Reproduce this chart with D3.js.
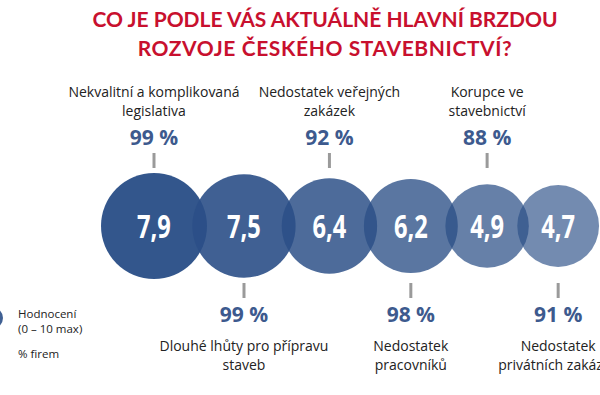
<!DOCTYPE html>
<html>
<head>
<meta charset="utf-8">
<script src="https://cdn.jsdelivr.net/npm/d3@7"></script>
<style>
  body { margin: 0; background: #fff; }
  svg { display: block; }
</style>
</head>
<body>
<div id="chart"></div>
<script>
// data
var titleLines = ["CO JE PODLE VÁS AKTUÁLNĚ HLAVNÍ BRZDOU", "ROZVOJE ČESKÉHO STAVEBNICTVÍ?"];
var categories = [
  ["Nekvalitní a komplikovaná", "legislativa"],
  ["Dlouhé lhůty pro přípravu", "staveb"],
  ["Nedostatek veřejných", "zakázek"],
  ["Nedostatek", "pracovníků"],
  ["Korupce ve", "stavebnictví"],
  ["Nedostatek", "privátních zakázek"]
];
var ratings = [7.9, 7.5, 6.4, 6.2, 4.9, 4.7];
var percents = [99, 99, 92, 98, 88, 91];
var legendLabels = [["Hodnocení", "(0 – 10 max)"], ["% firem"]];

var width = 600, height = 395;
var svg = d3.select("#chart").append("svg")
    .attr("width", width)
    .attr("height", height);

var fmt = function(v) { return String(v).replace(".", ","); };

// title
svg.append("g").selectAll("text")
  .data(titleLines)
  .enter().append("text")
    .attr("x", 325)
    .attr("y", function(d, i) { return 27 + i * 29; })
    .attr("text-anchor", "middle")
    .style("font-family", "Lato, 'Open Sans', sans-serif")
    .style("font-weight", "bold")
    .style("font-size", "21px")
    .style("letter-spacing", function(d, i) { return i == 1 ? "0.6px" : "0px"; })
    .style("fill", "#c8102e")
    .text(function(d) { return d; });

// radius from rating
var r = d3.scaleSqrt().domain([0, 7.9]).range([0, 53]);

// lay circles out left to right, slightly overlapping
var cx = [];
ratings.forEach(function(v, i) {
  if (i == 0) cx.push(154);
  else cx.push(cx[i - 1] + (r(ratings[i - 1]) + r(v)) * 0.86);
});
var cy = 226;
var opac = d3.scaleLinear().domain([0, ratings.length - 1]).range([0.96, 0.66]);

var items = ratings.map(function(v, i) {
  return { rating: v, pct: percents[i], label: categories[i], x: cx[i], i: i };
});

var nodes = svg.append("g").selectAll("g")
  .data(items)
  .enter().append("g");

nodes.append("circle")
    .attr("cx", function(d) { return d.x; })
    .attr("cy", cy)
    .attr("r", function(d) { return r(d.rating); })
    .style("fill", "#2b4f87")
    .style("fill-opacity", function(d) { return opac(d.i); });

// narrow bold numbers inside the bubbles
nodes.append("text")
    .attr("transform", function(d) { return "translate(" + d.x + "," + (cy + 12) + ") scale(0.74,1)"; })
    .attr("text-anchor", "middle")
    .style("font-family", "'Open Sans', sans-serif")
    .style("font-weight", "bold")
    .style("font-size", "32px")
    .style("fill", "#fff")
    .text(function(d) { return fmt(d.rating); });

// labels: even items above, odd below
var up = nodes.filter(function(d) { return d.i % 2 == 0; });
var down = nodes.filter(function(d) { return d.i % 2 == 1; });

function addTick(sel, y1, y2) {
  sel.append("line")
    .attr("x1", function(d) { return d.x; })
    .attr("x2", function(d) { return d.x; })
    .attr("y1", y1).attr("y2", y2)
    .style("stroke", "#9a9a9a")
    .style("stroke-width", 3);
}
function addPct(sel, y) {
  sel.append("text")
    .attr("x", function(d) { return d.x; })
    .attr("y", y)
    .attr("text-anchor", "middle")
    .style("font-family", "'Open Sans', sans-serif")
    .style("font-weight", "bold")
    .style("font-size", "21px")
    .style("fill", "#3d5a8e")
    .text(function(d) { return d.pct + " %"; });
}
function addLabel(sel, y) {
  sel.append("text")
    .attr("y", y)
    .attr("text-anchor", "middle")
    .style("font-family", "'Open Sans', sans-serif")
    .style("font-size", "14px")
    .style("fill", "#222")
    .selectAll("tspan")
    .data(function(d) { return d.label.map(function(t) { return { t: t, x: d.x }; }); })
    .enter().append("tspan")
      .attr("x", function(t) { return t.x; })
      .attr("dy", function(t, j) { return j == 0 ? 0 : 19; })
      .text(function(t) { return t.t; });
}

addTick(up, 153, 168);
addPct(up, 145);
addLabel(up, 97);

addTick(down, 283, 298);
addPct(down, 322);
addLabel(down, 351);

// legend at the left edge
var legend = svg.append("g");
legend.append("circle")
    .attr("cx", -8)
    .attr("cy", 318)
    .attr("r", 11)
    .style("fill", "#2b4f87")
    .style("fill-opacity", 0.9);
legendLabels[0].forEach(function(t, j) {
  legend.append("text")
    .attr("x", 18)
    .attr("y", 318 + j * 15)
    .style("font-family", "'Open Sans', sans-serif")
    .style("font-size", "11.5px")
    .style("fill", "#222")
    .text(t);
});
legend.append("text")
    .attr("x", 18)
    .attr("y", 358)
    .style("font-family", "'Open Sans', sans-serif")
    .style("font-size", "11.5px")
    .style("fill", "#222")
    .text(legendLabels[1][0]);
</script>
</body>
</html>
